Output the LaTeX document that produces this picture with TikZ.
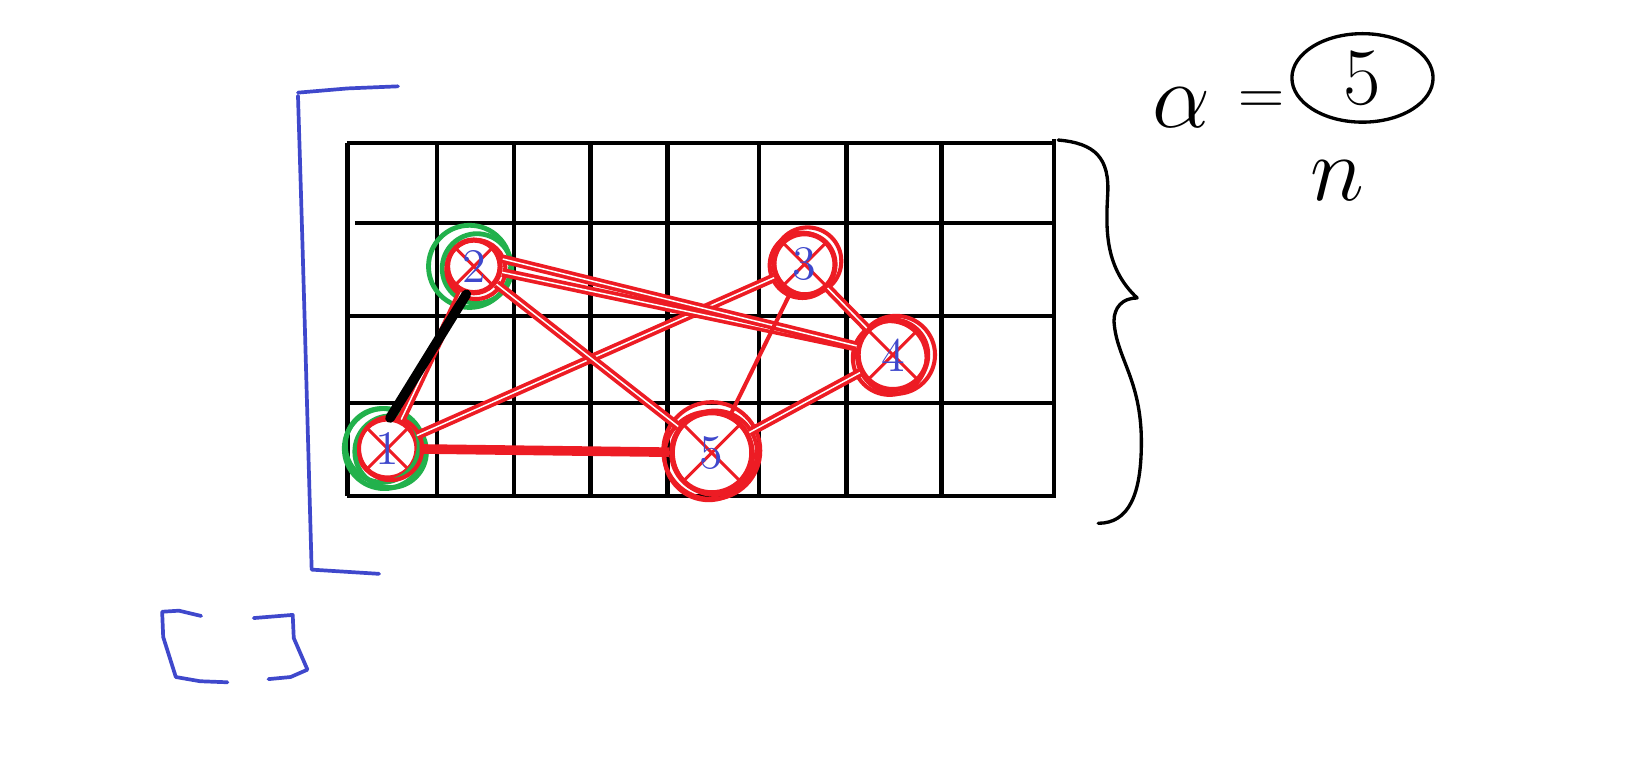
\documentclass[tikz,border=0pt]{standalone}
\usetikzlibrary{calc,shapes.geometric}
\definecolor{pred}{RGB}{237,28,36}
\definecolor{pgreen}{RGB}{34,177,76}
\definecolor{pblue}{RGB}{63,72,204}
\tikzset{
  gridline/.style={black, line width=1.2pt},
  vtx/.style={circle, draw=pred, line width=1.4pt, inner sep=0pt, text=pblue,
    font=\fontsize{13}{13}\selectfont,
    path picture={\draw[pred, line width=0.8pt] (path picture bounding box.north west) -- (path picture bounding box.south east)
      (path picture bounding box.north east) -- (path picture bounding box.south west);}},
  ring/.style={pred, line width=1.1pt},
  gring/.style={pgreen, line width=1.3pt},
  redge/.style={pred, line width=1pt, double=white, double distance=0.4pt},
  redgethick/.style={pred, line width=2.6pt},
  redgethin/.style={pred, line width=1.1pt},
  blueline/.style={pblue, line width=1pt, line cap=round, line join=round},
  hand/.style={black, line width=0.9pt, line cap=round, line join=round},
}
\begin{document}
\begin{tikzpicture}[x=0.01cm, y=-0.01cm]
\fill[white] (0,0) rectangle (1568,731);
\useasboundingbox (0,0) rectangle (1568,731);

% grid
\foreach \x in {330,415,488,561,634,721,804,894}
  \draw[gridline] (\x,136) -- (\x,471);
\draw[gridline] (1001,132) -- (1001,471);
\draw[gridline] (330,136) -- (1001,136);
\draw[gridline] (337,212) -- (1001,212);
\draw[gridline] (330,300) -- (1003,300);
\draw[gridline] (330,383) -- (1003,383);
\draw[gridline] (330,471) -- (1003,471);

% vertices
\node[vtx, minimum size=0.56cm] (n1) at (368,426) {1};
\node[vtx, minimum size=0.50cm] (n2) at (450,253) {2};
\node[vtx, minimum size=0.58cm] (n3) at (764,251) {3};
\node[vtx, minimum size=0.66cm] (n4) at (848,337) {4};
\node[vtx, minimum size=0.76cm] (n5) at (676,430) {5};

% extra sketchy rings
\draw[gring] (n1) ++(-3,0) circle[radius=0.38cm];
\draw[gring] (n1) ++(3,3) circle[radius=0.34cm];
\draw[gring] (n1) ++(-5,-3) circle[radius=0.35cm];
\draw[ring] (n1) ++(3,0) circle[radius=0.30cm];
\draw[gring] (n2) ++(-4,0) circle[radius=0.39cm];
\draw[gring] (n2) ++(3,2) circle[radius=0.33cm];
\draw[ring] (n2) ++(2,3) circle[radius=0.28cm];
\draw[ring] (n3) ++(3,-3) circle[radius=0.32cm];
\draw[ring] (n3) ++(-2,1) circle[radius=0.31cm];
\draw[ring] (n4) ++(3,0) circle[radius=0.37cm];
\draw[ring] (n4) ++(-3,3) circle[radius=0.35cm];
\draw[ring] (n5) ++(0,-2) circle[radius=0.46cm];
\draw[ring] (n5) ++(-3,3) circle[radius=0.42cm];
\draw[ring] (n5) ++(3,0) circle[radius=0.40cm];

% edges
\draw[redge] (n1) -- (n2);
\draw[redge] (n1) -- (n3);
\draw[redgethick] (n1) -- (n5);
\draw[redge] (n2) -- (n4);
\draw[redge] ([yshift=2pt]n2.east) -- (n4);
\draw[redge] (n2) -- (n5);
\draw[redge] (n3) -- (n4);
\draw[redgethin] (n3) -- (n5);
\draw[redge] (n4) -- (n5);
\draw[black, line width=2.6pt, line cap=round] (n2.255) -- ([xshift=-2pt]n1.72);

% blue brackets
\draw[blueline] (378,82) -- (330,84) -- (283,88);
\draw[blueline] (283,91) .. controls (288,250) and (292,400) .. (296,541) -- (360,545);
\draw[blueline] (191,585) -- (170,580) -- (154,581) -- (155,605) -- (167,643) -- (190,647) -- (216,648);
\draw[blueline] (241,587) -- (278,584) -- (279,606) -- (292,636) -- (276,643) -- (255,645);

% right brace
\draw[hand] (1005,133) .. controls (1040,136) and (1054,150) .. (1052,185)
  .. controls (1050,220) and (1050,255) .. (1080,283)
  .. controls (1066,283) and (1058,292) .. (1058,305)
  .. controls (1060,340) and (1084,360) .. (1084,420)
  .. controls (1084,470) and (1072,497) .. (1043,497);

% formula
\node[font=\fontsize{34}{34}\selectfont] (alpha) at (1122,102) {$\alpha$};
\node[font=\fontsize{18}{18}\selectfont, inner sep=0pt] (eq) at (1198,98) {$=$};
\node[draw, ellipse, hand, minimum width=1.34cm, minimum height=0.84cm, inner sep=0pt,
  font=\fontsize{22}{22}\selectfont] (five) at (1294,74) {5};
\node[font=\fontsize{32}{32}\selectfont] (enn) at (1270,172) {$n$};
\end{tikzpicture}
\end{document}
